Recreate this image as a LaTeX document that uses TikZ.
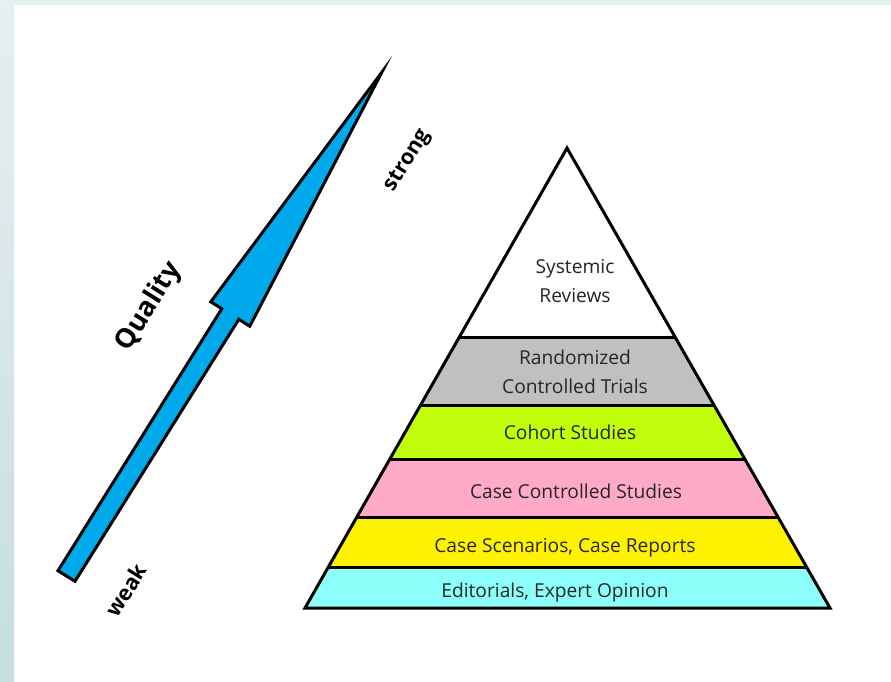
\documentclass[tikz,border=0pt]{standalone}
\usepackage{fontspec}
\setmainfont{Open Sans}
\usepackage{tikz}
\usetikzlibrary{calc}

\definecolor{arrowblue}{HTML}{00A8EC}
\definecolor{rctgray}{HTML}{C0C0C0}
\definecolor{cohortgreen}{HTML}{C2FF0C}
\definecolor{ccpink}{HTML}{FFABC6}
\definecolor{csyellow}{HTML}{FFF200}
\definecolor{eocyan}{HTML}{8CFFFA}
\definecolor{framelight}{HTML}{E6EFF2}
\definecolor{framedark}{HTML}{C6DDE4}
\definecolor{labelgray}{HTML}{262626}

\begin{document}
\begin{tikzpicture}[
    x=1pt, y=-1pt,
    outline/.style={draw=black, line width=3pt, line join=miter},
    divider/.style={draw=black, line width=3pt},
    tier/.style={font=\fontsize{19.2}{29}\selectfont, text=labelgray, align=center, inner sep=0pt},
    endlabel/.style={font=\fontsize{21.5}{24}\selectfont\bfseries, rotate=58, inner sep=0pt},
    qlabel/.style={font=\fontsize{27}{30}\selectfont\bfseries, rotate=58, inner sep=0pt},
]
\useasboundingbox (0,0) rectangle (891,681);

% Draw the page and its frame
\fill[white] (0,0) rectangle (891,681);
\shade[top color=framelight, bottom color=framedark] (0,0) rectangle (14,681);
\fill[framelight] (14,0) rectangle (891,5);

% Draw the quality arrow
\coordinate (tl) at (58,570.7);
\coordinate (tr) at (75,581.3);
\coordinate (nl) at (221.8,308.7);
\coordinate (nr) at (238.8,319.3);
\coordinate (hl) at (210.8,301.8);
\coordinate (hr) at (249.8,326.2);
\coordinate (tip) at (382,72);
\draw[outline, fill=arrowblue, miter limit=25] (tl) -- (nl) -- (hl) -- (tip) -- (hr) -- (nr) -- (tr) -- cycle;

\node[qlabel] (Q) at (149,307) {Quality};
\node[endlabel] (S) at (408,161) {strong};
\node[endlabel] (W) at (126,590) {weak};

% Draw the pyramid
\coordinate (apex) at (567,148);
\coordinate (baseL) at (305,608);
\coordinate (baseR) at (830,608);
\foreach \n/\t in {1/0.413, 2/0.5587, 3/0.678, 4/0.804, 5/0.911, 6/1} {
    \coordinate (L\n) at ($(apex)!\t!(baseL)$);
    \coordinate (R\n) at ($(apex)!\t!(baseR)$);
}
\fill[white] (apex) -- (R1) -- (L1) -- cycle;
\foreach \u/\v/\c in {1/2/rctgray, 2/3/cohortgreen, 3/4/ccpink, 4/5/csyellow, 5/6/eocyan} {
    \fill[\c] (L\u) -- (R\u) -- (R\v) -- (L\v) -- cycle;
}
\foreach \n in {1,...,5} {
    \draw[divider] (L\n) -- (R\n);
}
\draw[outline] (apex) -- (baseL) -- (baseR) -- cycle;

% Label the tiers
\node[tier] (SR) at (575,281) {Systemic\\Reviews};
\node[tier] (RCT) at (575,372) {Randomized\\Controlled Trials};
\node[tier] (CS) at (570,432) {Cohort Studies};
\node[tier] (CCS) at (576,491) {Case Controlled Studies};
\node[tier] (CSR) at (565,548) {Case Scenarios, Case Reports};
\node[tier] (EO) at (555,592) {Editorials, Expert Opinion};

\end{tikzpicture}
\end{document}
